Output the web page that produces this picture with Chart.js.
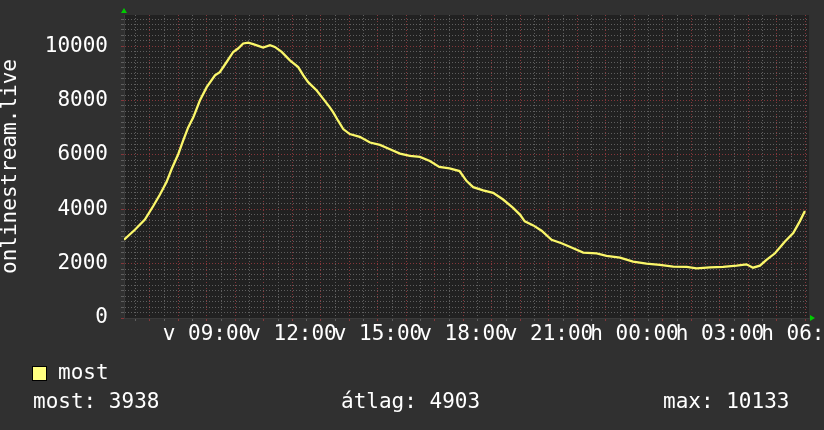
<!DOCTYPE html>
<html>
<head>
<meta charset="utf-8">
<script src="https://cdn.jsdelivr.net/npm/chart.js@4"></script>
<style>
  html, body { margin: 0; padding: 0; background: #303030; }
</style>
</head>
<body>
<canvas id="chart" width="824" height="430"></canvas>
<script>
// time of day in hours since midnight (v = vasárnap, values > 24 are hétfő)
const hours = [6.09, 6.47, 6.82, 7.11, 7.35, 7.58, 7.76, 7.99, 8.16, 8.34, 8.52, 8.75, 8.99, 9.28, 9.45, 9.69, 9.92,
  10.09, 10.27, 10.45, 10.62, 10.80, 10.97, 11.21, 11.38, 11.62, 11.91, 12.20, 12.38, 12.55, 12.85, 13.08, 13.31,
  13.43, 13.60, 13.78, 14.01, 14.36, 14.72, 15.07, 15.42, 15.77, 16.12, 16.47, 16.82, 17.15, 17.51, 17.86, 18.11,
  18.34, 18.69, 19.04, 19.39, 19.74, 19.98, 20.15, 20.45, 20.74, 21.09, 21.44, 21.79, 22.20, 22.67, 23.02, 23.49,
  23.95, 24.42, 24.89, 25.36, 25.83, 26.18, 26.65, 27.11, 27.58, 27.93, 28.16, 28.40, 28.63, 28.93, 29.28, 29.57,
  29.80, 29.98];
const viewers = [2880, 3248, 3619, 4111, 4544, 5000, 5480, 6026, 6519, 7011, 7381, 8000, 8493, 8926, 9048, 9419, 9789,
  9915, 10100, 10133, 10074, 10011, 9952, 10037, 9974, 9789, 9481, 9233, 8926, 8678, 8370, 8063, 7752,
  7567, 7259, 6952, 6767, 6667, 6456, 6370, 6211, 6048, 5963, 5926, 5778, 5556, 5507, 5407, 5037,
  4815, 4693, 4604, 4359, 4048, 3804, 3556, 3407, 3211, 2878, 2752, 2593, 2407, 2381, 2285, 2222,
  2074, 2000, 1952, 1889, 1878, 1826, 1863, 1878, 1926, 1974, 1852, 1926, 2137, 2381, 2815, 3122,
  3556, 3938];

const labelHours = [9, 12, 15, 18, 21, 24, 27, 30];
const timeLabels = ['v 09:00', 'v 12:00', 'v 15:00', 'v 18:00', 'v 21:00', 'h 00:00', 'h 03:00', 'h 06:00'];
const statLabels = ['most: 3938', 'átlag: 4903', 'max: 10133'];
const seriesName = 'most';
const axisTitle = 'onlinestream.live';

const MONO = "'DejaVu Sans Mono', monospace";
const FONT_SIZE = 21;
const minorGrid = '#5e5e5e';
const majorGrid = '#85363a';

const buildTicks = (from, to, step) => {
    const out = [];
    for (let v = from; v <= to + 1e-9; v += step) out.push({ value: Math.round(v * 100) / 100 });
    return out;
};

const decorations = {
    id: 'decorations',
    beforeDraw(chart) {
        const { ctx, chartArea: a } = chart;
        ctx.save();
        ctx.fillStyle = '#303030';
        ctx.fillRect(0, 0, chart.width, chart.height);
        ctx.fillStyle = '#212121';
        ctx.fillRect(a.left, a.top, a.right - a.left, a.bottom - a.top);
        ctx.restore();
    },
    afterDraw(chart) {
        const { ctx, chartArea: a } = chart;
        ctx.save();
        // axis arrows
        ctx.fillStyle = '#00cc00';
        ctx.beginPath();
        ctx.moveTo(a.left - 3, a.top - 2);
        ctx.lineTo(a.left + 3, a.top - 2);
        ctx.lineTo(a.left, a.top - 7);
        ctx.closePath();
        ctx.fill();
        ctx.beginPath();
        ctx.moveTo(a.right + 1, a.bottom - 3);
        ctx.lineTo(a.right + 1, a.bottom + 3);
        ctx.lineTo(a.right + 6, a.bottom);
        ctx.closePath();
        ctx.fill();

        // legend + stats
        ctx.fillStyle = '#ffff80';
        ctx.fillRect(32, 366, 15, 15);
        ctx.strokeStyle = '#000000';
        ctx.lineWidth = 1;
        ctx.strokeRect(32.5, 366.5, 14, 14);
        ctx.fillStyle = '#ffffff';
        ctx.font = `${FONT_SIZE}px ${MONO}`;
        ctx.textBaseline = 'middle';
        ctx.fillText(seriesName, 58, 374);
        const statX = [33, 341, 663];
        statLabels.forEach((t, i) => ctx.fillText(t, statX[i], 403));
        ctx.restore();
    }
};

new Chart(document.getElementById('chart'), {
    type: 'line',
    data: {
        datasets: [{
            label: seriesName,
            data: hours.map((h, i) => ({ x: h, y: viewers[i] })),
            borderColor: '#fbf76a',
            borderWidth: 2.3,
            pointRadius: 0,
            tension: 0,
            fill: false
        }]
    },
    options: {
        responsive: false,
        animation: false,
        devicePixelRatio: 1,
        layout: { padding: { top: 15, right: 15, left: 0, bottom: 0 } },
        plugins: { legend: { display: false }, tooltip: { enabled: false } },
        scales: {
            x: {
                type: 'linear',
                min: 6.088,
                max: 30.123,
                afterBuildTicks: (scale) => { scale.ticks = buildTicks(6.5, 30, 0.5); },
                afterFit: (scale) => { scale.height = 112; scale.paddingLeft = 0; scale.paddingRight = 0; },
                ticks: {
                    autoSkip: false,
                    maxRotation: 0,
                    minRotation: 0,
                    padding: 1,
                    color: '#ffffff',
                    font: { family: MONO, size: FONT_SIZE },
                    callback: (v) => {
                        const i = labelHours.indexOf(v);
                        return i >= 0 ? timeLabels[i] : '';
                    }
                },
                grid: {
                    color: (c) => (c.tick && Number.isInteger(c.tick.value) ? majorGrid : minorGrid),
                    tickLength: 3,
                    tickBorderDash: [],
                    lineWidth: 1
                },
                border: { display: true, color: '#3a3a3a', dash: [1, 2] }
            },
            y: {
                min: 0,
                max: 11148,
                afterBuildTicks: (scale) => { scale.ticks = buildTicks(0, 11000, 200); },
                afterFit: (scale) => { scale.width = 124; scale.paddingTop = 0; scale.paddingBottom = 0; },
                ticks: {
                    autoSkip: false,
                    padding: 13,
                    color: '#ffffff',
                    font: { family: MONO, size: FONT_SIZE },
                    callback: (v) => (v % 2000 === 0 ? String(v) : '')
                },
                grid: {
                    color: (c) => (c.tick && c.tick.value % 2000 === 0 ? majorGrid : minorGrid),
                    tickLength: 3,
                    tickBorderDash: [],
                    lineWidth: 1
                },
                border: { display: true, color: '#3a3a3a', dash: [1, 2] },
                title: {
                    display: true,
                    text: axisTitle,
                    color: '#ffffff',
                    font: { family: MONO, size: FONT_SIZE, lineHeight: 1 },
                    padding: { top: 0, bottom: 0 }
                }
            }
        }
    },
    plugins: [decorations]
});
</script>
</body>
</html>
